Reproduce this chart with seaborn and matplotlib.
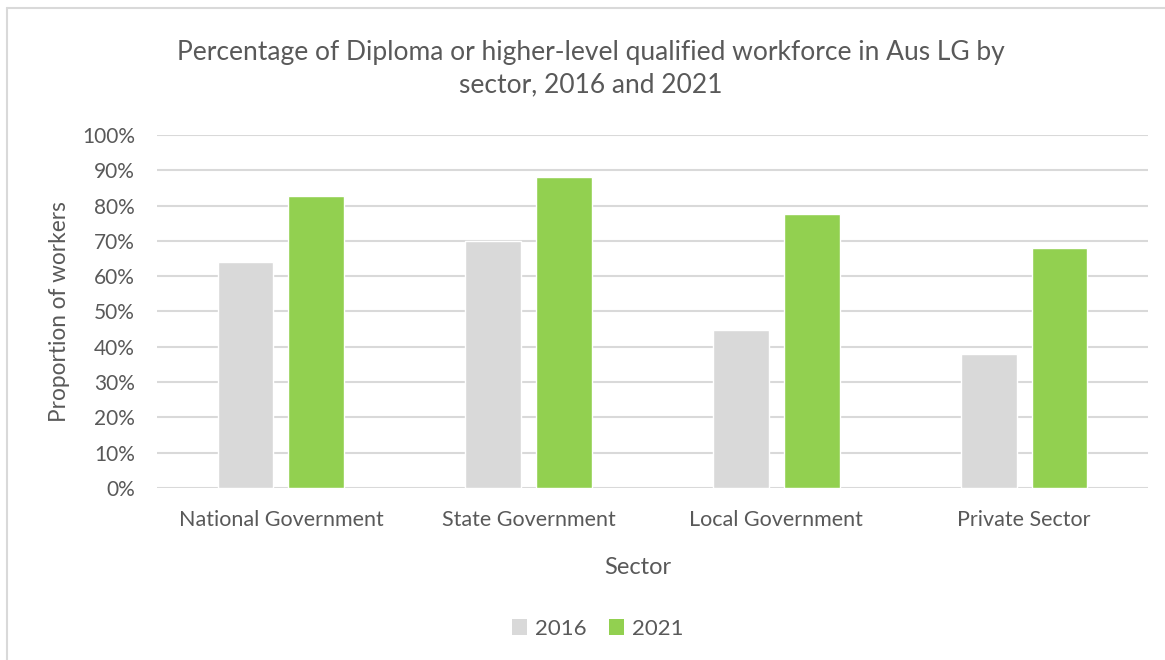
import matplotlib
matplotlib.use("Agg")
import matplotlib.pyplot as plt
from matplotlib.patches import Patch
from matplotlib.ticker import PercentFormatter
import pandas as pd
import seaborn as sns

# Data
sectors = ["National Government", "State Government", "Local Government", "Private Sector"]
years = ["2016", "2021"]
share_2016 = [0.64, 0.70, 0.447, 0.38]
share_2021 = [0.827, 0.88, 0.776, 0.68]
y_ticks = [0.0, 0.1, 0.2, 0.3, 0.4, 0.5, 0.6, 0.7, 0.8, 0.9, 1.0]

df = pd.DataFrame({
    "Sector": sectors * 2,
    "Year": [years[0]] * len(sectors) + [years[1]] * len(sectors),
    "Share": share_2016 + share_2021,
})

palette = {"2016": "#d9d9d9", "2021": "#92d050"}
text_color = "#595959"
grid_color = "#d9d9d9"

sns.set_theme(style="white")
plt.rcParams["font.family"] = ["Lato", "DejaVu Sans"]

fig = plt.figure(figsize=(11.65, 6.6), dpi=100)
ax = fig.add_axes([0.1348, 0.2606, 0.8506, 0.5349])

sns.barplot(data=df, x="Sector", y="Share", hue="Year", order=sectors,
            hue_order=years, palette=palette, width=0.57, gap=0.21,
            saturation=1, legend=False, ax=ax, zorder=3)

ax.set_ylim(0, 1.0)
ax.set_xlim(-0.5, len(sectors) - 0.5)
ax.set_yticks(y_ticks)
ax.yaxis.set_major_formatter(PercentFormatter(1.0, decimals=0))
ax.grid(axis="y", color=grid_color, linewidth=1.5, zorder=0)
ax.set_axisbelow(True)
for s in ax.spines.values():
    s.set_visible(False)
ax.tick_params(axis="both", length=0, labelcolor=text_color)
ax.tick_params(axis="y", pad=16, labelsize=15)
ax.tick_params(axis="x", pad=16, labelsize=15.5)

ax.set_xlabel("Sector", fontsize=17, color=text_color)
ax.xaxis.set_label_coords((638 - 157) / 991, -69 / 353, transform=ax.transAxes)
ax.set_ylabel("Proportion of workers", fontsize=16.3, color=text_color)
ax.yaxis.set_label_coords(-87 / 991, 0.5, transform=ax.transAxes)

fig.text(0.507, 0.896,
         "Percentage of Diploma or higher-level qualified workforce in Aus LG by\nsector, 2016 and 2021",
         ha="center", va="center", fontsize=19, color=text_color, linespacing=1.4)

handles = [Patch(facecolor=palette[y], edgecolor="none", label=y) for y in years]
fig.legend(handles=handles, loc="center", bbox_to_anchor=(0.513, 0.047), ncol=2,
           frameon=False, fontsize=16, labelcolor=text_color, handlelength=0.7,
           handleheight=0.7, handletextpad=0.35, columnspacing=1.0)

# Chart-area border along the left and top edges
fig.add_artist(plt.Line2D([0.0064, 0.0064], [0.0, 0.988], color=grid_color,
                          linewidth=1.5, transform=fig.transFigure))
fig.add_artist(plt.Line2D([0.0064, 1.0], [0.988, 0.988], color=grid_color,
                          linewidth=1.5, transform=fig.transFigure))

fig.savefig("out.png", dpi=100)
